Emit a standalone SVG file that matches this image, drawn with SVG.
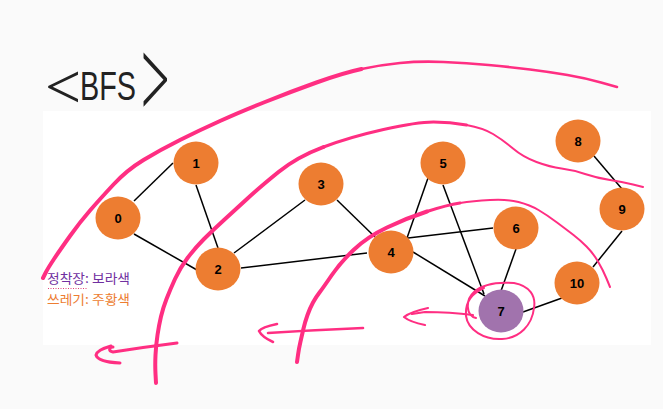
<svg xmlns="http://www.w3.org/2000/svg" width="663" height="409" viewBox="0 0 663 409">
<style>
.edge{stroke:#000;stroke-width:1.5;fill:none}
.node{fill:#ED7D31}
.visited{fill:#A173AD}
.lbl{font-family:"Liberation Sans",Arial,sans-serif;font-weight:bold;font-size:13px;fill:#000;text-anchor:middle}
.pk{fill:none;stroke:#FF2E82;stroke-linecap:round;stroke-linejoin:round}
.hw{font-family:"Liberation Sans",Arial,sans-serif;fill:#222}
.hb{font-family:"Liberation Serif","Times New Roman",serif;fill:#222}
.leg{font-family:"Noto Sans CJK KR","Noto Sans",sans-serif;font-size:13px}
</style>
<rect x="0" y="0" width="663" height="409" fill="#fafafa"/>
<rect x="43" y="111" width="608" height="234" fill="#ffffff"/>

<g id="title">
<text class="hb" x="45" y="108" font-size="64">&lt;</text>
<text class="hw" transform="translate(80,100) scale(0.72,1)" x="0" y="0" font-size="40">BFS</text>
<text class="hb" transform="translate(141,87) scale(0.9,2)" x="0" y="15" font-size="56">&gt;</text>
</g>

<g id="connectors">
<line class="edge" x1="134" y1="201" x2="173" y2="163"/>
<line class="edge" x1="134" y1="234" x2="197" y2="270"/>
<line class="edge" x1="196" y1="185" x2="218" y2="248"/>
<line class="edge" x1="234" y1="253" x2="305" y2="200"/>
<line class="edge" x1="241" y1="268" x2="367" y2="253"/>
<line class="edge" x1="337" y1="200" x2="375" y2="237"/>
<line class="edge" x1="407" y1="238" x2="428" y2="178"/>
<line class="edge" x1="408" y1="238" x2="493" y2="228"/>
<line class="edge" x1="443" y1="185" x2="484" y2="294"/>
<line class="edge" x1="413" y1="252" x2="485" y2="296"/>
<line class="edge" x1="516" y1="249" x2="501" y2="291"/>
<line class="edge" x1="523" y1="312" x2="562" y2="298"/>
<line class="edge" x1="593" y1="267" x2="622" y2="231"/>
<line class="edge" x1="594" y1="156" x2="622" y2="189"/>
</g>

<g id="node0"><ellipse class="node" cx="118" cy="218" rx="22.5" ry="21.5"/><text class="lbl" x="118" y="222.5">0</text></g>
<g id="node1"><ellipse class="node" cx="196" cy="163" rx="22.5" ry="21.5"/><text class="lbl" x="196" y="167.5">1</text></g>
<g id="node2"><ellipse class="node" cx="218" cy="269" rx="22.5" ry="21.5"/><text class="lbl" x="218" y="273.5">2</text></g>
<g id="node3"><ellipse class="node" cx="321" cy="184" rx="22.5" ry="21.5"/><text class="lbl" x="321" y="188.5">3</text></g>
<g id="node4"><ellipse class="node" cx="391" cy="252" rx="22.5" ry="21.5"/><text class="lbl" x="391" y="256.5">4</text></g>
<g id="node5"><ellipse class="node" cx="443" cy="163" rx="22.5" ry="21.5"/><text class="lbl" x="443" y="167.5">5</text></g>
<g id="node6"><ellipse class="node" cx="516" cy="228" rx="22.5" ry="21.5"/><text class="lbl" x="516" y="232.5">6</text></g>
<g id="node7"><ellipse class="visited" cx="501" cy="311" rx="22.5" ry="21.5"/><text class="lbl" x="501" y="315.5">7</text></g>
<g id="node8"><ellipse class="node" cx="578" cy="141" rx="22.5" ry="21.5"/><text class="lbl" x="578" y="145.5">8</text></g>
<g id="node9"><ellipse class="node" cx="622" cy="209" rx="22.5" ry="21.5"/><text class="lbl" x="622" y="213.5">9</text></g>
<g id="node10"><ellipse class="node" cx="577" cy="283" rx="22.5" ry="21.5"/><text class="lbl" x="577" y="287.5">10</text></g>

<g id="legend">
<text class="leg" x="47" y="283" fill="#7030A0" textLength="83" lengthAdjust="spacingAndGlyphs">정착장: 보라색</text>
<line x1="48" y1="288.5" x2="87" y2="288.5" stroke="#E0407A" stroke-width="1" stroke-dasharray="1 1.5"/>
<text class="leg" x="47" y="304" fill="#ED7D31" textLength="83" lengthAdjust="spacingAndGlyphs">쓰레기: 주황색</text>
</g>

<g id="annotations">
<path class="pk" stroke-width="4" d="M43,278 L45.5,273 Q48,268 54,259 Q60,250 70,236 Q80,222 90,210.5 Q100,199 113.5,184.5 Q127,170 143.5,160 Q160,150 180,140 Q200,130 220,121 Q240,112 265,102 Q290,92 316.5,82.5 Q343,73 361.5,69"/>
<path class="pk" stroke-width="2.6" d="M361.5,69 Q380,65 400,63 Q420,61 443.5,62 Q467,63 488.5,65 Q510,67 530,69.5 Q550,72 567.5,75 Q585,78 601,82.5 L617,87"/>

<path class="pk" stroke-width="4" d="M156,383 L155.5,374 Q155,365 155.5,355 Q156,345 157.5,335 Q159,325 161,316.5 Q163,308 166.5,299 Q170,290 175,279 Q180,268 187.5,258 Q195,248 204,239 Q213,230 224,220 Q235,210 247.5,198.5 Q260,187 278.5,172 Q297,157 323.5,147"/>
<path class="pk" stroke-width="3" d="M323.5,147 Q350,137 383.5,129.5 Q417,122 433.5,122 Q450,122 466.5,125"/>
<path class="pk" stroke-width="2" d="M466.5,125 Q483,128 493,134 Q503,140 513,148.5 Q523,157 536.5,162 Q550,167 561.5,168.5 Q573,170 585,174 Q597,178 610,180 Q623,182 633,184.5 L643,187"/>
<path class="pk" stroke-width="3" d="M177,343 Q145,347 113,352 C108,351 109,347 113,347"/>
<path class="pk" stroke-width="3" d="M111,346 Q97,350 96,355 Q98,362 120,363"/>

<path class="pk" stroke-width="4" d="M297,362 L298,355 Q299,348 300.5,341.5 Q302,335 303.5,328.5 Q305,322 307.5,315 Q310,308 313,302.5 Q316,297 319.5,292.5 Q323,288 331.5,275.5 Q340,263 353.5,250 Q367,237 387,227.5 Q407,218 427,211.5"/>
<path class="pk" stroke-width="3" d="M427,211.5 Q447,205 460,203"/>
<path class="pk" stroke-width="2" d="M460,203 Q473,201 490,200 Q507,199 518.5,202 Q530,205 538.5,210 Q547,215 557,222.5 Q567,230 573.5,235 Q580,240 586.5,246.5 Q593,253 598,261.5 Q603,270 606.5,278.5 L610,287"/>
<path class="pk" stroke-width="2.6" d="M363,328 Q315,330 268,333"/>
<path class="pk" stroke-width="2.6" d="M277,324 Q262,327 259,331 Q262,337 273,342"/>

<path class="pk" stroke-width="2.2" d="M473,315 Q450,312 425,312 L412,314"/>
<path class="pk" stroke-width="2.2" d="M428,308 Q410,312 404,317 Q410,322 425,325"/>
<path class="pk" stroke-width="2" d="M476,318 C466,316 465,300 474,292 C484,283 500,282 514,283 C530,286 536,296 534,308 C532,325 520,338 502,339 C484,340 468,330 466,316 C465,302 472,293 484,288"/>
</g>
</svg>
